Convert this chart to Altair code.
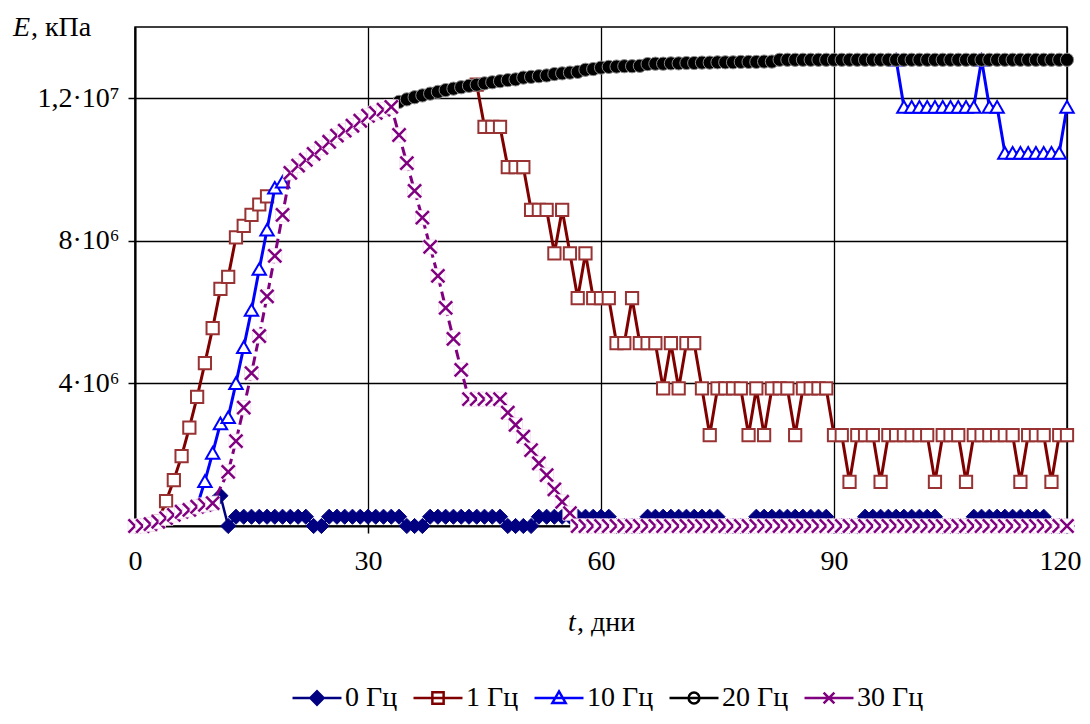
import altair as alt
import pandas as pd

FONT = "Liberation Serif"

# ---------------- data (E in units of 10^6 kPa, t in days) ----------------
series_names = ["0 Гц", "1 Гц", "10 Гц", "20 Гц", "30 Гц"]
series_colors = ["#000080", "#800000", "#0000FF", "#000000", "#800080"]

x_ticks = [0, 30, 60, 90, 120]
y_ticks = [4, 8, 12]
y_tick_labels = ["4·10⁶", "8·10⁶", "1,2·10⁷"]

x_title_italic = "t"
x_title_rest = ", дни"
y_title_italic = "E"
y_title_rest = ", кПа"

# 0 Гц
days_0 = list(range(10, 121))
e_0 = [0.64, 0.85, 0.0,
       0.26, 0.26, 0.26, 0.26, 0.26, 0.26, 0.26, 0.26, 0.26, 0.26,
       0.0, 0.0,
       0.26, 0.26, 0.26, 0.26, 0.26, 0.26, 0.26, 0.26, 0.26, 0.26,
       0.0, 0.0, 0.0,
       0.26, 0.26, 0.26, 0.26, 0.26, 0.26, 0.26, 0.26, 0.26, 0.26,
       0.0, 0.0, 0.0, 0.0,
       0.26, 0.26, 0.26, 0.26, 0.26, 0.26, 0.26, 0.26, 0.26, 0.26,
       0.0, 0.0, 0.0, 0.0,
       0.26, 0.26, 0.26, 0.26, 0.26, 0.26, 0.26, 0.26, 0.26, 0.26,
       0.0, 0.0, 0.0, 0.0,
       0.26, 0.26, 0.26, 0.26, 0.26, 0.26, 0.26, 0.26, 0.26, 0.26,
       0.0, 0.0, 0.0, 0.0,
       0.26, 0.26, 0.26, 0.26, 0.26, 0.26, 0.26, 0.26, 0.26, 0.26,
       0.0, 0.0, 0.0, 0.0,
       0.26, 0.26, 0.26, 0.26, 0.26, 0.26, 0.26, 0.26, 0.26, 0.26,
       0.0, 0.0, 0.0]

# 1 Гц (two stretches)
days_1a = list(range(2, 18))
e_1a = [0.05, 0.14, 0.70, 1.29, 1.96, 2.76, 3.62, 4.57, 5.55, 6.65, 6.99,
        8.10, 8.42, 8.73, 9.02, 9.25]
days_1b = list(range(44, 121))
e_1b = [12.38, 11.2, 11.2, 11.2, 10.07, 10.07, 10.07, 8.87, 8.87, 8.87,
        7.65, 8.87, 7.65, 6.39, 7.65, 6.39, 6.39, 6.39, 5.13, 5.13,
        6.39, 5.13, 5.13, 5.13, 3.86, 5.13, 3.86, 5.13, 5.13, 3.86,
        2.55, 3.86, 3.86, 3.86, 3.86, 2.55, 3.86, 2.55, 3.86, 3.86,
        3.86, 2.55, 3.86, 3.86, 3.86, 3.86, 2.55, 2.55, 1.24, 2.55,
        2.55, 2.55, 1.24, 2.55, 2.55, 2.55, 2.55, 2.55, 2.55, 1.24,
        2.55, 2.55, 2.55, 1.24, 2.55, 2.55, 2.55, 2.55, 2.55, 2.55,
        1.24, 2.55, 2.55, 2.55, 1.24, 2.55, 2.55]

# 10 Гц (two stretches)
days_10a = list(range(8, 20))
e_10a = [0.56, 1.26, 2.05, 2.88, 3.05, 4.01, 5.02, 6.06, 7.21, 8.31, 9.49, 9.66]
days_10b = list(range(98, 121))
e_10b = [13.08, 11.76, 11.76, 11.76, 11.76, 11.76, 11.76, 11.76, 11.76, 11.76,
         11.76, 13.08, 11.76, 11.76, 10.47, 10.47, 10.47, 10.47, 10.47, 10.47,
         10.47, 10.47, 11.76]

# 20 Гц
days_20 = list(range(34, 121))
e_20 = [11.90, 11.97, 12.03, 12.08, 12.13, 12.18, 12.23, 12.27, 12.31, 12.35,
        12.38, 12.42, 12.45, 12.48, 12.51, 12.53, 12.58, 12.60, 12.62, 12.64,
        12.68, 12.70, 12.72, 12.74, 12.80, 12.82, 12.86, 12.88, 12.89, 12.90,
        12.90, 12.91, 12.96, 12.97, 12.97, 12.98, 12.98, 12.99, 12.99, 13.00,
        13.00, 13.01, 13.01, 13.01, 13.02, 13.02, 13.02, 13.03, 13.03, 13.08,
        13.08, 13.08, 13.08, 13.08, 13.08, 13.08, 13.08, 13.08, 13.08, 13.08,
        13.08, 13.08, 13.08, 13.08, 13.08, 13.08, 13.08, 13.08, 13.08, 13.08,
        13.08, 13.08, 13.08, 13.08, 13.08, 13.08, 13.08, 13.08, 13.08, 13.08,
        13.08, 13.08, 13.08, 13.08, 13.08, 13.08, 13.08]

# 30 Гц
days_30 = [0, 1, 2, 3, 4, 5, 6, 7, 8, 9, 10] + list(range(12, 121))
e_30 = [0.0, 0.0, 0.05, 0.12, 0.22, 0.31, 0.40, 0.45, 0.54, 0.59, 0.64,
        1.52, 2.38, 3.32, 4.29, 5.33, 6.44, 7.58, 8.73,
        9.91, 10.11, 10.27, 10.44, 10.61, 10.78, 10.95, 11.09, 11.23, 11.37,
        11.51, 11.59, 11.68, 11.76,
        10.97, 10.18, 9.40, 8.65, 7.83, 7.02, 6.12, 5.25, 4.38, 3.56,
        3.56, 3.56, 3.56, 3.56,
        3.18, 2.84, 2.51, 2.13, 1.76, 1.43, 1.03, 0.68, 0.36,
        0, 0, 0, 0, 0, 0, 0, 0, 0, 0, 0, 0, 0, 0, 0, 0,
        0, 0, 0, 0, 0, 0, 0, 0, 0, 0, 0, 0, 0, 0, 0, 0,
        0, 0, 0, 0, 0, 0, 0, 0, 0, 0, 0, 0, 0, 0, 0, 0,
        0, 0, 0, 0, 0, 0, 0, 0, 0, 0, 0, 0, 0, 0, 0, 0]

assert len(days_0) == len(e_0)
assert len(days_1a) == len(e_1a) and len(days_1b) == len(e_1b)
assert len(days_10a) == len(e_10a) and len(days_10b) == len(e_10b)
assert len(days_20) == len(e_20)
assert len(days_30) == len(e_30)


def frame(days, values, seg):
    return pd.DataFrame({"t": days, "E": values, "seg": seg})


df0 = frame(days_0, e_0, 0)
df1 = pd.concat([frame(days_1a, e_1a, 0), frame(days_1b, e_1b, 1)], ignore_index=True)
df10 = pd.concat([frame(days_10a, e_10a, 0), frame(days_10b, e_10b, 1)], ignore_index=True)
df20 = frame(days_20, e_20, 0)
df30 = frame(days_30, e_30, 0)

# 30 Гц markers: white square background + cross, interleaved point by point
X_PATH = "M-1,-1L1,1M-1,1L1,-1"
rows = []
for i, (tt, ee) in enumerate(zip(days_30, e_30)):
    rows.append({"t": tt, "E": ee, "ord": 2 * i, "shp": "square", "fil": "white",
                 "stk": "#f6e2f2", "sw": 1.0, "sz": 196})
    rows.append({"t": tt, "E": ee, "ord": 2 * i + 1, "shp": X_PATH, "fil": "transparent",
                 "stk": "#800080", "sw": 2.5, "sz": 170})
df30p = pd.DataFrame(rows)

# ---------------- encodings ----------------
label_expr = " : ".join(
    [f"datum.value == {v} ? '{s}'" for v, s in zip(y_ticks[:-1], y_tick_labels[:-1])]
    + [f"'{y_tick_labels[-1]}'"])

x_axis = alt.Axis(values=x_ticks, title=None, grid=True, gridColor="#000000",
                  gridWidth=1.3, domainColor="#000000", domainWidth=2,
                  tickColor="#000000", tickWidth=1.5, tickSize=7,
                  labelFont=FONT, labelFontSize=28, labelColor="#000000",
                  labelPadding=14, labelFlush=False,
                  labelOffset={"condition": {"test": "datum.value == 120", "value": -7},
                               "value": 0})
y_axis = alt.Axis(values=y_ticks, title=None, grid=True, gridColor="#000000",
                  gridWidth=1.3, domainColor="#000000", domainWidth=2,
                  tickColor="#000000", tickWidth=1.5, tickSize=7,
                  labelFont=FONT, labelFontSize=28, labelColor="#000000",
                  labelPadding=9, labelExpr=label_expr)

X = alt.X("t:Q", scale=alt.Scale(domain=[0, 120], nice=False, zero=False), axis=x_axis)
Y = alt.Y("E:Q", scale=alt.Scale(domain=[0, 14], nice=False), axis=y_axis)


def line_layer(df, color, width, dash=None):
    kw = dict(color=color, strokeWidth=width, clip=True)
    if dash:
        kw["strokeDash"] = dash
    return alt.Chart(df).mark_line(**kw).encode(
        x=X, y=Y, detail="seg:N", order="t:Q")


def point_layer(df, shape, size, fill, stroke, sw):
    return alt.Chart(df).mark_point(shape=shape, size=size, filled=True, fill=fill,
                                    stroke=stroke, strokeWidth=sw, opacity=1).encode(x=X, y=Y)


layers = [
    line_layer(df0, "#000080", 2.5),
    point_layer(df0, "diamond", 230, "#000080", "#000080", 1),
    line_layer(df1, "#800000", 3),
    point_layer(df1, "square", 150, "white", "#993333", 2),
    line_layer(df10, "#0000FF", 3),
    point_layer(df10, "triangle-up", 180, "white", "#0000FF", 2),
    line_layer(df20, "#000000", 2.5),
    point_layer(df20, "circle", 175, "#000000", "#8a8a8a", 1),
    line_layer(df30, "#800080", 3, [10, 5]),
    alt.Chart(df30p).mark_point(filled=True, opacity=1).encode(
        x=X, y=Y,
        shape=alt.Shape("shp:N", scale=None, legend=None),
        fill=alt.Fill("fil:N", scale=None, legend=None),
        stroke=alt.Stroke("stk:N", scale=None, legend=None),
        strokeWidth=alt.StrokeWidth("sw:Q", scale=None, legend=None),
        size=alt.Size("sz:Q", scale=None, legend=None),
        order=alt.Order("ord:Q")),
]

# ---------------- legend (line + marker symbols) ----------------
legend_paths = [
    "M-1,0H1M-0.27,0L0,-0.27L0.27,0L0,0.27Z",
    "M-1,0H1M-0.23,-0.23H0.23V0.23H-0.23Z",
    "M-1,0H1M0,-0.27L0.27,0.2L-0.27,0.2Z",
    "M-1,0H1M0.22,0A0.22,0.22,0,1,1,-0.22,0A0.22,0.22,0,1,1,0.22,0Z",
    "M-1,0H1M-0.22,-0.22L0.22,0.22M-0.22,0.22L0.22,-0.22",
]
legend_fills = ["#000080", "white", "white", "white", "transparent"]

leg = alt.Legend(orient="none", legendX=156, legendY=645, direction="horizontal",
                 columns=5, title=None, labelFont=FONT, labelFontSize=28,
                 labelColor="#000000", symbolSize=2400, symbolStrokeWidth=2.5,
                 labelOffset=2, columnPadding=10, padding=0)
leg_df = pd.DataFrame({"series": series_names, "t": [None] * 5, "E": [None] * 5})
legend_layer = alt.Chart(leg_df).mark_point(filled=True, opacity=1).encode(
    x=X, y=Y,
    shape=alt.Shape("series:N", scale=alt.Scale(domain=series_names, range=legend_paths), legend=leg),
    fill=alt.Fill("series:N", scale=alt.Scale(domain=series_names, range=legend_fills), legend=leg),
    stroke=alt.Stroke("series:N", scale=alt.Scale(domain=series_names, range=series_colors), legend=leg),
)
layers.append(legend_layer)

# ---------------- axis titles ----------------
def text_layer(txt, x, y, italic=False, size=28):
    kw = dict(font=FONT, fontSize=size, align="left", baseline="alphabetic", color="#000000")
    if italic:
        kw["fontStyle"] = "italic"
    return alt.Chart(pd.DataFrame({"s": [txt]})).mark_text(**kw).encode(
        text="s:N", x=alt.value(x), y=alt.value(y))


layers += [
    text_layer(x_title_italic, 433, 604, italic=True),
    text_layer(x_title_rest, 442, 604),
    text_layer(y_title_italic, -122, 9, italic=True),
    text_layer(y_title_rest, -104, 9),
]

chart = alt.layer(*layers).resolve_scale(
    shape="independent", fill="independent", stroke="independent",
    strokeWidth="independent", size="independent"
).properties(
    width=932, height=499,
    autosize=alt.AutoSizeParams(type="none"),
    padding={"left": 127, "top": 19, "right": 15, "bottom": 185},
    background="white",
).configure_view(stroke="#000000", strokeWidth=1.5)

chart.save("out.html", embed_options={"renderer": "svg", "actions": False})
